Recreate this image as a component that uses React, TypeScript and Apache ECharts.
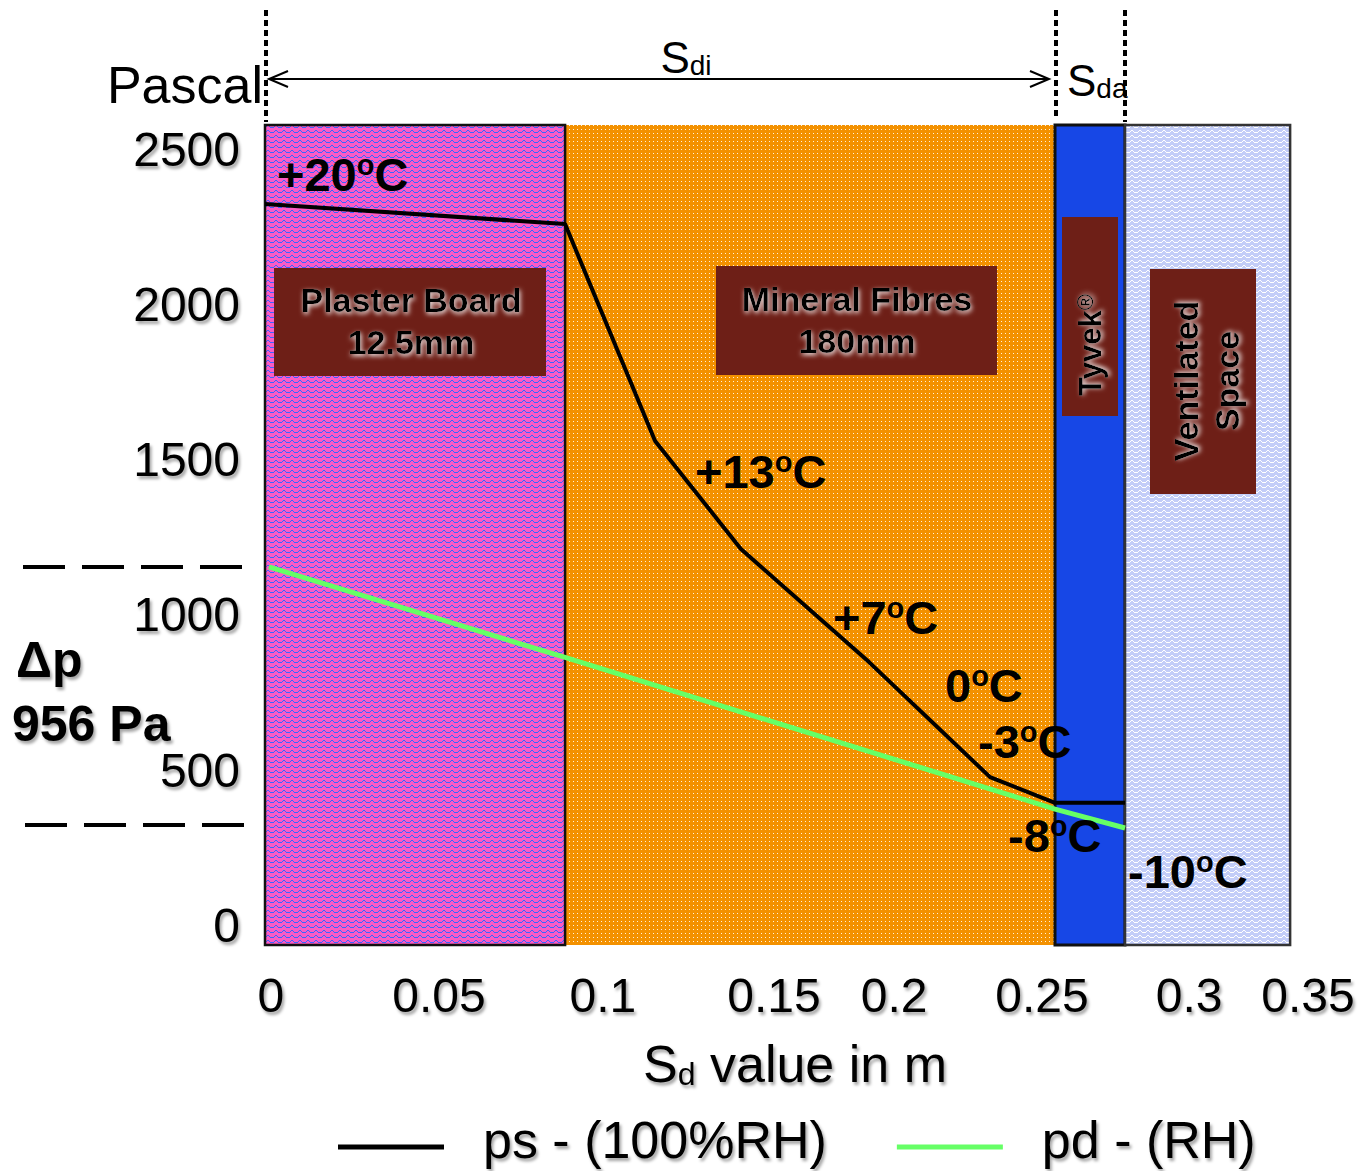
import React, { useEffect, useRef } from 'react';
import * as echarts from 'echarts';

const FONT = '"Liberation Sans", Arial, Helvetica, sans-serif';

// Layers along the x axis (Sd scale as drawn in the figure)
const layerNames = ['Plaster Board', 'Mineral Fibres', 'Tyvek', 'Ventilated Space'];
const layerStart = [0, 0.1007, 0.2651, 0.2886];
const layerEnd = [0.1007, 0.2651, 0.2886, 0.344];

// ps - saturation vapour pressure (100% RH)
const psX = [0, 0.1007, 0.1309, 0.1597, 0.2027, 0.2433, 0.2651, 0.2886];
const psY = [2326, 2261, 1561, 1213, 848, 477, 394, 394];

// pd - actual vapour pressure (RH)
const pdX = [0.0013, 0.1007, 0.2651, 0.2886];
const pdY = [1155, 863, 374, 313];

// Tick labels
const xTickAt = [0.002, 0.0584, 0.1134, 0.1708, 0.2111, 0.2607, 0.3101, 0.35];
const xTickText = ['0', '0.05', '0.1', '0.15', '0.2', '0.25', '0.3', '0.35'];
const yTicks = [0, 500, 1000, 1500, 2000, 2500];
const Y_MIN = -64.5;
const Y_MAX = 2580.6;

const seriesNames = ['ps - (100%RH)', 'pd - (RH)'];
const seriesColors = ['#000000', '#66FF66'];

function makeTile(w: number, h: number, bg: string, fg: string, pts: number[][]) {
  const c = document.createElement('canvas');
  c.width = w;
  c.height = h;
  const ctx = c.getContext('2d')!;
  ctx.fillStyle = bg;
  ctx.fillRect(0, 0, w, h);
  ctx.fillStyle = fg;
  pts.forEach(([x, y]) => ctx.fillRect(x, y, 1, 1));
  return c;
}

const zig = [
  [0, 2], [1, 2], [2, 1], [3, 0], [4, 0], [5, 1], [6, 2], [7, 2],
];

const shadowGray = {
  textShadowColor: 'rgba(0,0,0,0.35)',
  textShadowBlur: 3,
  textShadowOffsetX: 2,
  textShadowOffsetY: 3,
};
const glowWhite = {
  textShadowColor: 'rgba(255,255,255,0.95)',
  textShadowBlur: 5,
  textShadowOffsetX: 1,
  textShadowOffsetY: 2,
};

function tempLabel(t: string, x: number, y: number) {
  return {
    type: 'text',
    x,
    y,
    z: 20,
    style: {
      text: `{a|${t}}{o|o}{a|C}`,
      align: 'left',
      verticalAlign: 'middle',
      rich: {
        a: { fontSize: 47, fontWeight: 'bold', fontFamily: FONT, fill: '#000', lineHeight: 47 },
        o: { fontSize: 29, fontWeight: 'bold', fontFamily: FONT, fill: '#000', lineHeight: 22, verticalAlign: 'top' },
      },
    },
  };
}

function boxLabel(text: string, x: number, y: number, rotation = 0, lineHeight = 42) {
  return {
    type: 'text',
    x,
    y,
    rotation,
    z: 21,
    style: {
      text,
      align: 'center',
      verticalAlign: 'middle',
      fontSize: 34,
      fontWeight: 'bold',
      fontFamily: FONT,
      fill: '#000',
      lineHeight,
      ...glowWhite,
    },
  };
}

// legend swatch: bar drawn at the lower part of the icon box
const legendIcon = 'path://M0,0L106,0L106,0.05L0,0.05Z M0,14L106,14L106,19L0,19Z';

export default function App() {
  const ref = useRef<HTMLDivElement>(null);
  useEffect(() => {
    const chart = echarts.init(ref.current!, null, { renderer: 'svg' });

    const fills: any[] = [
      { image: makeTile(8, 5, '#FB5BC5', '#3A66FF', zig), repeat: 'repeat' },
      {
        image: makeTile(4, 4, '#F39100', '#FFF2DC', [[1, 1]]),
        repeat: 'repeat',
      },
      '#1747E6',
      { image: makeTile(8, 5, '#C3CDF8', '#FFFFFF', zig), repeat: 'repeat' },
    ];
    const strokes = ['#111', null, '#111', '#333'];
    const widths = [2.5, 0, 3, 2.5];

    const layerData = [1, 0, 2, 3].map((i) => [layerStart[i], layerEnd[i], i]);

    const graphic: any[] = [
      // dotted boundaries above the plot
      { type: 'line', shape: { x1: 266, y1: 10, x2: 266, y2: 122 }, style: { stroke: '#000', lineWidth: 4, lineDash: [6, 4] } },
      { type: 'line', shape: { x1: 1056, y1: 10, x2: 1056, y2: 118 }, style: { stroke: '#000', lineWidth: 4, lineDash: [6, 4] } },
      { type: 'line', shape: { x1: 1125, y1: 10, x2: 1125, y2: 122 }, style: { stroke: '#000', lineWidth: 4, lineDash: [6, 4] } },
      // Sdi arrow
      { type: 'line', shape: { x1: 269, y1: 79, x2: 1049, y2: 79 }, style: { stroke: '#000', lineWidth: 2 } },
      { type: 'polyline', shape: { points: [[288, 71], [269, 79], [288, 87]] }, style: { stroke: '#000', lineWidth: 2, fill: null } },
      { type: 'polyline', shape: { points: [[1030, 71], [1049, 79], [1030, 87]] }, style: { stroke: '#000', lineWidth: 2, fill: null } },
      {
        type: 'text', x: 686, y: 57,
        style: {
          text: '{s|S}{b|di}', align: 'center', verticalAlign: 'middle',
          rich: {
            s: { fontSize: 44, fontFamily: FONT, fill: '#000', lineHeight: 44 },
            b: { fontSize: 28, fontFamily: FONT, fill: '#000', lineHeight: 24, verticalAlign: 'bottom' },
          },
        },
      },
      {
        type: 'text', x: 1067, y: 80,
        style: {
          text: '{s|S}{b|da}', align: 'left', verticalAlign: 'middle',
          rich: {
            s: { fontSize: 44, fontFamily: FONT, fill: '#000', lineHeight: 44 },
            b: { fontSize: 28, fontFamily: FONT, fill: '#000', lineHeight: 24, verticalAlign: 'bottom' },
          },
        },
      },
      {
        type: 'text', x: 263, y: 85,
        style: { text: 'Pascal', align: 'right', verticalAlign: 'middle', fontSize: 52, fontFamily: FONT, fill: '#000' },
      },
      // dashed markers for delta p
      { type: 'line', shape: { x1: 23, y1: 567, x2: 242, y2: 567 }, style: { stroke: '#000', lineWidth: 4, lineDash: [42, 17] } },
      { type: 'line', shape: { x1: 25, y1: 825, x2: 245, y2: 825 }, style: { stroke: '#000', lineWidth: 4, lineDash: [42, 17] } },
      {
        type: 'text', x: 16, y: 660,
        style: { text: 'Δp', align: 'left', verticalAlign: 'middle', fontSize: 50, fontWeight: 'bold', fontFamily: FONT, fill: '#000', ...shadowGray },
      },
      {
        type: 'text', x: 12, y: 724,
        style: { text: '956 Pa', align: 'left', verticalAlign: 'middle', fontSize: 50, fontWeight: 'bold', fontFamily: FONT, fill: '#000', ...shadowGray },
      },
      // layer labels
      { type: 'rect', z: 15, shape: { x: 274, y: 268, width: 272, height: 108 }, style: { fill: '#6E1F17' } },
      boxLabel('Plaster Board\n12.5mm', 411, 321),
      { type: 'rect', z: 15, shape: { x: 716, y: 266, width: 281, height: 109 }, style: { fill: '#6E1F17' } },
      boxLabel('Mineral Fibres\n180mm', 857, 320),
      { type: 'rect', z: 15, shape: { x: 1062, y: 217, width: 56, height: 199 }, style: { fill: '#6E1F17' } },
      {
        type: 'text', x: 1090, y: 345, rotation: Math.PI / 2, z: 21,
        style: {
          text: '{a|Tyvek}{r|®}', align: 'center', verticalAlign: 'middle',
          rich: {
            a: { fontSize: 31, fontWeight: 'bold', fontFamily: FONT, fill: '#000', lineHeight: 31 },
            r: { fontSize: 22, fontWeight: 'bold', fontFamily: FONT, fill: '#000', lineHeight: 16, verticalAlign: 'top' },
          },
          ...glowWhite,
        },
      },
      { type: 'rect', z: 15, shape: { x: 1150, y: 269, width: 106, height: 225 }, style: { fill: '#6E1F17' } },
      boxLabel('Ventilated\nSpace', 1206, 381, Math.PI / 2, 41),
      // temperatures
      tempLabel('+20', 277, 174),
      tempLabel('+13', 695, 471),
      tempLabel('+7', 833, 617),
      tempLabel('0', 945, 685),
      tempLabel('-3', 978, 741),
      tempLabel('-8', 1008, 835),
      tempLabel('-10', 1128, 871),
      // axis title
      {
        type: 'text', x: 795, y: 1064,
        style: {
          text: '{s|S}{b|d}{s| value in m}', align: 'center', verticalAlign: 'middle',
          rich: {
            s: { fontSize: 52, fontFamily: FONT, fill: '#000', lineHeight: 52 },
            b: { fontSize: 32, fontFamily: FONT, fill: '#000', lineHeight: 18, verticalAlign: 'bottom' },
          },
          ...shadowGray,
        },
      },
    ];

    chart.setOption({
      animation: false,
      backgroundColor: '#ffffff',
      grid: { left: 265, right: 53, top: 125, bottom: 226, containLabel: false, outerBoundsMode: 'none' },
      xAxis: {
        type: 'value',
        min: 0,
        max: 0.35,
        axisLine: { show: false },
        axisTick: { show: false },
        splitLine: { show: false },
        axisLabel: {
          customValues: xTickAt,
          formatter: (v: number) => {
            let best = 0;
            xTickAt.forEach((t, i) => {
              if (Math.abs(t - v) < Math.abs(xTickAt[best] - v)) best = i;
            });
            return xTickText[best];
          },
          fontSize: 48,
          fontFamily: FONT,
          color: '#000',
          margin: 26,
          ...shadowGray,
        },
      },
      yAxis: {
        type: 'value',
        min: Y_MIN,
        max: Y_MAX,
        axisLine: { show: false },
        axisTick: { show: false },
        splitLine: { show: false },
        axisLabel: {
          customValues: yTicks,
          formatter: (v: number) => String(Math.round(v)),
          fontSize: 48,
          fontFamily: FONT,
          color: '#000',
          margin: 25,
          ...shadowGray,
        },
      },
      legend: {
        data: seriesNames,
        left: 338,
        top: 1111,
        padding: 0,
        icon: legendIcon,
        itemWidth: 106,
        itemHeight: 19,
        itemGap: 70,
        textStyle: { fontSize: 52, fontFamily: FONT, color: '#000', padding: [0, 0, 0, 34], lineHeight: 58, ...shadowGray },
      },
      series: [
        {
          type: 'custom',
          name: 'layers',
          z: 1,
          data: layerData,
          encode: { x: [0, 1] },
          renderItem: (params: any, api: any) => {
            const i = api.value(2);
            const p0 = api.coord([api.value(0), Y_MAX]);
            const p1 = api.coord([api.value(1), Y_MIN]);
            return {
              type: 'rect',
              shape: { x: p0[0], y: p0[1], width: p1[0] - p0[0], height: p1[1] - p0[1] },
              style: { fill: fills[i], stroke: strokes[i], lineWidth: widths[i] },
            };
          },
          silent: true,
        },
        {
          type: 'line',
          name: seriesNames[0],
          z: 5,
          data: psX.map((x, i) => [x, psY[i]]),
          symbol: 'none',
          color: seriesColors[0],
          itemStyle: { color: seriesColors[0] },
          lineStyle: { color: seriesColors[0], width: 4 },
        },
        {
          type: 'line',
          name: seriesNames[1],
          z: 6,
          data: pdX.map((x, i) => [x, pdY[i]]),
          symbol: 'none',
          color: seriesColors[1],
          itemStyle: { color: seriesColors[1] },
          lineStyle: { color: seriesColors[1], width: 5 },
        },
      ],
      graphic,
    });
    return () => chart.dispose();
  }, []);
  return (
    <div
      ref={ref}
      style={{ position: 'fixed', left: 0, top: 0, width: 1361, height: 1171, background: '#fff' }}
    />
  );
}
